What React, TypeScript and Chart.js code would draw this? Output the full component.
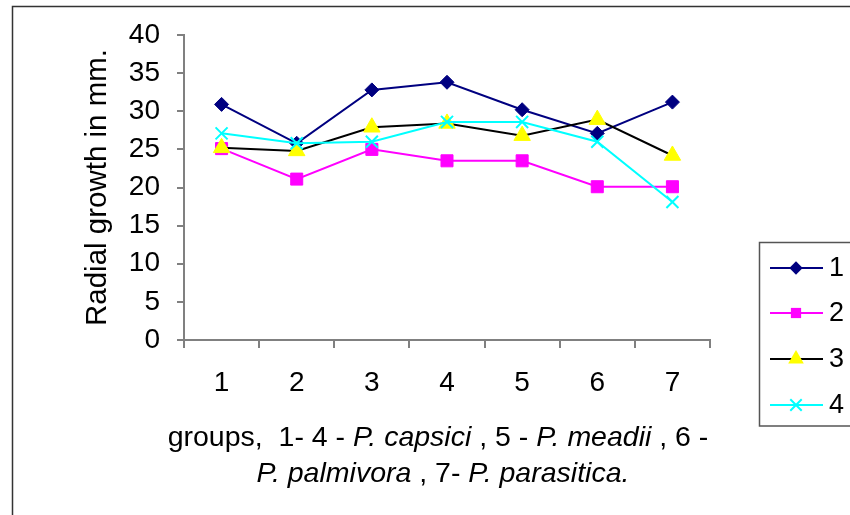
import React, { useEffect, useRef } from 'react';
import { Chart, registerables } from 'chart.js';

Chart.register(...registerables);

const FONT = '"Liberation Sans", Arial, sans-serif';

const categories = ['1', '2', '3', '4', '5', '6', '7'];
const seriesNames = ['1', '2', '3', '4'];
const series1 = [30.9, 25.8, 32.8, 33.8, 30.2, 27.1, 31.2];
const series2 = [25.1, 21.1, 25.0, 23.5, 23.5, 20.1, 20.1];
const series3 = [25.2, 24.8, 27.9, 28.4, 26.8, 28.9, 24.2];
const series4 = [27.1, 25.8, 26.0, 28.6, 28.6, 26.0, 18.1];
const yMin = 0;
const yMax = 40;
const yStep = 5;
const yTitle = 'Radial growth in mm.';
// x-axis title as runs: [text, italic]
const xTitleLine1: [string, boolean][] = [
  ['groups,  1- 4 - ', false],
  ['P. capsici', true],
  [' , 5 - ', false],
  ['P. meadii', true],
  [' , 6 -', false],
];
const xTitleLine2: [string, boolean][] = [
  ['P. palmivora', true],
  [' , 7- ', false],
  ['P. parasitica.', true],
];

type Mk = { style: string; line: string; fill: string; r: number };
const markers: Mk[] = [
  { style: 'rectRot', line: '#000080', fill: '#000080', r: 7 },
  { style: 'rect', line: '#FF00FF', fill: '#FF00FF', r: 8.5 },
  { style: 'triangle', line: '#000000', fill: '#FFFF00', r: 9.5 },
  { style: 'crossRot', line: '#00FFFF', fill: '#00FFFF', r: 8.5 },
];

function drawMarker(ctx: CanvasRenderingContext2D, m: Mk, x: number, y: number, scale: number) {
  const r = m.r * scale;
  ctx.save();
  ctx.fillStyle = m.fill;
  ctx.strokeStyle = m.fill;
  ctx.lineWidth = 2;
  ctx.beginPath();
  if (m.style === 'rectRot') {
    ctx.moveTo(x - r, y);
    ctx.lineTo(x, y - r);
    ctx.lineTo(x + r, y);
    ctx.lineTo(x, y + r);
    ctx.closePath();
    ctx.fill();
  } else if (m.style === 'rect') {
    const s = r * Math.SQRT1_2;
    ctx.rect(x - s, y - s, 2 * s, 2 * s);
    ctx.fill();
  } else if (m.style === 'triangle') {
    let a = 0;
    ctx.moveTo(x + Math.sin(a) * r, y - Math.cos(a) * r);
    a += (2 * Math.PI) / 3;
    ctx.lineTo(x + Math.sin(a) * r, y - Math.cos(a) * r);
    a += (2 * Math.PI) / 3;
    ctx.lineTo(x + Math.sin(a) * r, y - Math.cos(a) * r);
    ctx.closePath();
    ctx.fill();
  } else {
    const s = r * Math.SQRT1_2;
    ctx.moveTo(x - s, y - s);
    ctx.lineTo(x + s, y + s);
    ctx.moveTo(x - s, y + s);
    ctx.lineTo(x + s, y - s);
    ctx.stroke();
  }
  ctx.restore();
}

const framePlugin = {
  id: 'frame',
  beforeDraw(chart: any) {
    const ctx = chart.ctx as CanvasRenderingContext2D;
    ctx.save();
    ctx.fillStyle = '#ffffff';
    ctx.fillRect(0, 0, chart.width, chart.height);
    ctx.strokeStyle = '#333333';
    ctx.lineWidth = 1.5;
    ctx.strokeRect(12.5, 6.5, chart.width + 20, chart.height + 20);
    ctx.restore();
  },
};

const xTitlePlugin = {
  id: 'xTitle',
  afterDraw(chart: any) {
    const ctx = chart.ctx as CanvasRenderingContext2D;
    const size = 28.5;
    const drawLine = (runs: [string, boolean][], cx: number, baseline: number) => {
      ctx.save();
      ctx.fillStyle = '#000';
      ctx.textBaseline = 'alphabetic';
      ctx.textAlign = 'left';
      let total = 0;
      const widths = runs.map(([t, it]) => {
        ctx.font = `${it ? 'italic ' : ''}${size}px ${FONT}`;
        const w = ctx.measureText(t).width;
        total += w;
        return w;
      });
      let x = cx - total / 2;
      runs.forEach(([t, it], i) => {
        ctx.font = `${it ? 'italic ' : ''}${size}px ${FONT}`;
        ctx.fillText(t, x, baseline);
        x += widths[i];
      });
      ctx.restore();
    };
    drawLine(xTitleLine1, 438, 446);
    drawLine(xTitleLine2, 443, 482);
  },
};

const legendPlugin = {
  id: 'customLegend',
  afterDraw(chart: any) {
    const ctx = chart.ctx as CanvasRenderingContext2D;
    ctx.save();
    ctx.strokeStyle = '#555555';
    ctx.lineWidth = 1.5;
    ctx.strokeRect(759.5, 242.5, 120, 183.5);
    const ys = [268, 313, 359, 405];
    seriesNames.forEach((name, i) => {
      const m = markers[i];
      const y = ys[i];
      ctx.strokeStyle = m.line;
      ctx.lineWidth = 2;
      ctx.beginPath();
      ctx.moveTo(770, y);
      ctx.lineTo(823, y);
      ctx.stroke();
      drawMarker(ctx, m, 796, y, i === 1 ? 0.85 : 0.95);
      ctx.fillStyle = '#000';
      ctx.font = `27px ${FONT}`;
      ctx.textBaseline = 'middle';
      ctx.textAlign = 'left';
      ctx.fillText(name, 829, y + 1);
    });
    ctx.restore();
  },
};

export default function App() {
  const ref = useRef<HTMLCanvasElement | null>(null);
  useEffect(() => {
    if (!ref.current) return;
    const all = [series1, series2, series3, series4];
    const chart = new Chart(ref.current, {
      type: 'line',
      data: {
        labels: categories,
        datasets: all.map((d, i) => ({
          label: seriesNames[i],
          data: d,
          borderColor: markers[i].line,
          backgroundColor: markers[i].fill,
          borderWidth: 2,
          pointStyle: markers[i].style as any,
          pointRadius: markers[i].r,
          pointHoverRadius: markers[i].r,
          pointBackgroundColor: markers[i].fill,
          pointBorderColor: markers[i].fill,
          pointBorderWidth: i === 3 ? 2 : 1,
          tension: 0,
          fill: false,
          order: 4 - i,
        })),
      },
      options: {
        responsive: false,
        animation: false,
        events: [],
        layout: { padding: { top: 35, right: 140, left: 0, bottom: 0 } },
        plugins: { legend: { display: false }, tooltip: { enabled: false }, title: { display: false } },
        scales: {
          x: {
            type: 'category',
            offset: true,
            grid: { offset: true, drawOnChartArea: false, drawTicks: true, tickLength: 8, color: '#808080', lineWidth: 2 },
            border: { display: true, color: '#808080', width: 2 },
            ticks: { color: '#000', font: { family: FONT, size: 28 }, padding: 18, maxRotation: 0 },
            afterFit: (s: any) => { s.height = 175; },
          },
          y: {
            min: yMin,
            max: yMax,
            ticks: { stepSize: yStep, color: '#000', font: { family: FONT, size: 28 }, padding: 17 },
            grid: { drawOnChartArea: false, drawTicks: true, tickLength: 7, color: '#808080', lineWidth: 2 },
            border: { display: true, color: '#808080', width: 2 },
            title: { display: true, text: yTitle, color: '#000', font: { family: FONT, size: 29.5 }, padding: { top: 80, bottom: 0 } },
            afterFit: (s: any) => { s.width = 184; },
          },
        },
      },
      plugins: [framePlugin, xTitlePlugin, legendPlugin],
    });
    return () => chart.destroy();
  }, []);
  return (
    <div style={{ position: 'fixed', left: 0, top: 0, width: 850, height: 515 }}>
      <canvas ref={ref} width={850} height={515} style={{ width: 850, height: 515, display: 'block' }} />
    </div>
  );
}
